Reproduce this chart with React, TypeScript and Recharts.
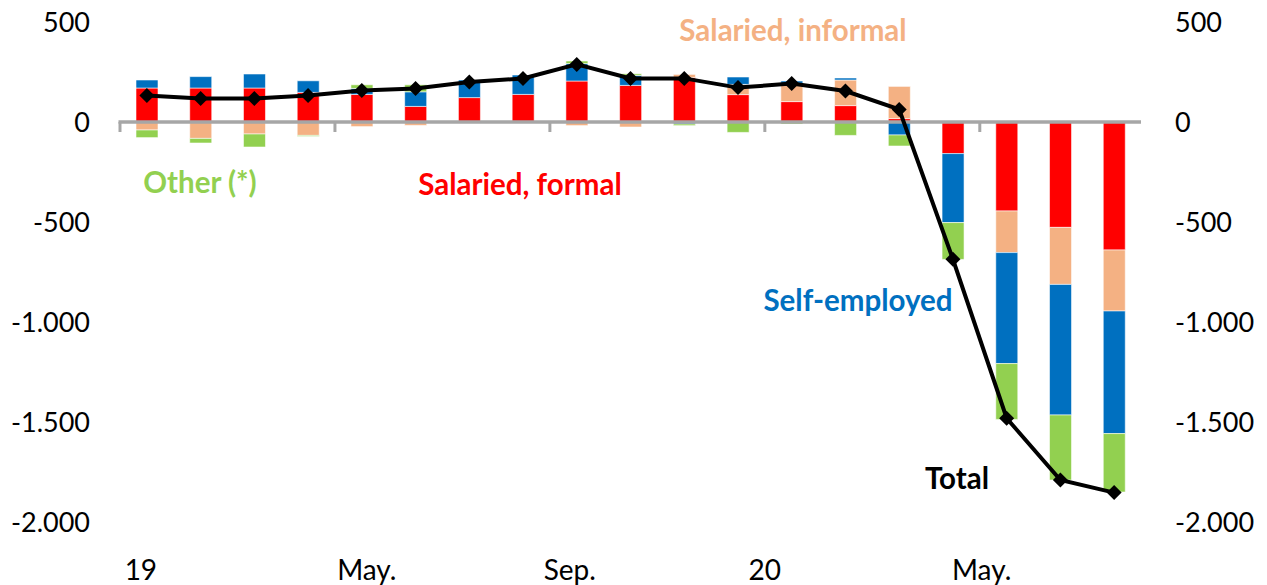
import React from "react";
import { Bar, ComposedChart, Line, ReferenceLine, XAxis, YAxis } from "recharts";

const months = [
  "Jan-19", "Feb-19", "Mar-19", "Apr-19", "May-19", "Jun-19", "Jul-19", "Aug-19", "Sep-19", "Oct-19",
  "Nov-19", "Dec-19", "Jan-20", "Feb-20", "Mar-20", "Apr-20", "May-20", "Jun-20", "Jul-20",
];
const tickLabels = ["19", "", "", "", "May.", "", "", "", "Sep.", "", "", "", "20", "", "", "", "May.", "", ""];
// Excel puts these a bit off the category centre
const tickShift = [-6, 0, 0, 0, 5, 0, 0, 0, -7, 0, 0, 0, -27, 0, 0, 0, -25, 0, 0];

const salariedFormal = [170, 170, 170, 148, 138, 78, 122, 138, 205, 183, 222, 137, 102, 82, 17, -158, -445, -527, -640];
const salariedInformal = [-40, -82, -60, -67, -23, -17, 0, 0, -18, -25, 16, 51, 91, 128, 161, 0, -208, -285, -305];
const selfEmployed = [40, 57, 70, 58, 30, 73, 88, 97, 87, 50, -10, 37, 12, 10, -65, -345, -555, -653, -613];
const other = [-38, -23, -65, -5, 18, 35, -5, -5, 13, 8, -8, -52, -10, -67, -55, -184, -279, -325, -292];
const total = [133, 118, 117, 133, 158, 168, 200, 218, 288, 218, 218, 172, 192, 155, 63, -686, -1481, -1790, -1853];

const yTicks = [-2000, -1500, -1000, -500, 0, 500];

const data = months.map((m, i) => ({
  m,
  formal: salariedFormal[i],
  informal: salariedInformal[i],
  self: selfEmployed[i],
  other: other[i],
  total: total[i],
}));

const FONT = "Lato, 'Open Sans', sans-serif";
const fmt = (v: number) => v.toLocaleString("de-DE");

const Diamond = (props: any) => {
  const { cx, cy } = props;
  if (cx == null || cy == null) return null;
  const r = 7.5;
  return <polygon points={`${cx},${cy - r} ${cx + r},${cy} ${cx},${cy + r} ${cx - r},${cy}`} fill="#000" />;
};

const XTick = (props: any) => {
  const { x, y, index } = props;
  const label = tickLabels[index];
  if (!label) return null;
  return (
    <text x={x + tickShift[index]} y={y + 56} textAnchor="middle" fontSize={28} fontFamily={FONT} fill="#000">
      {label}
    </text>
  );
};

const ZeroAxis = (props: any) => {
  const { x1, y1, x2 } = props;
  const step = ((x2 - x1) / months.length) * 4;
  const marks = [];
  for (let k = 0; x1 + k * step < x2 - 1; k++) {
    const x = x1 + k * step;
    marks.push(<line key={k} x1={x} y1={y1} x2={x} y2={y1 + 10} stroke="#A6A6A6" strokeWidth={3} />);
  }
  return (
    <g>
      <line x1={x1 - 1.5} y1={y1} x2={x2} y2={y1} stroke="#A6A6A6" strokeWidth={3.5} />
      {marks}
    </g>
  );
};

const notes = [
  { text: "Other (*)", color: "#92D050", left: 200, top: 182 },
  { text: "Salaried, formal", color: "#FF0000", left: 520, top: 184 },
  { text: "Salaried, informal", color: "#F4B183", left: 793, top: 30 },
  { text: "Self-employed", color: "#0070C0", left: 858, top: 300 },
  { text: "Total", color: "#000000", left: 957, top: 478 },
];

export default function App() {
  const barStroke = { stroke: "#ffffff", strokeWidth: 0.8, strokeOpacity: 0.7 };
  return (
    <div style={{ position: "absolute", left: 0, top: 0, width: 1267, height: 585, background: "#fff" }}>
      <ComposedChart
        width={1267}
        height={585}
        data={data}
        stackOffset="sign"
        barSize={22}
        margin={{ top: 22, right: 0, bottom: 0, left: 0 }}
      >
        <XAxis
          dataKey="m"
          interval={0}
          axisLine={false}
          tickLine={false}
          tickSize={0}
          height={63}
          tick={<XTick />}
        />
        <YAxis
          yAxisId="left"
          domain={[-2000, 500]}
          ticks={yTicks}
          width={120}
          axisLine={false}
          tickLine={false}
          tickSize={0}
          tickMargin={30}
          tickFormatter={fmt}
          tick={{ fill: "#000", fontSize: 27, fontFamily: FONT }}
        />
        <YAxis
          yAxisId="right"
          orientation="right"
          domain={[-2000, 500]}
          ticks={yTicks}
          width={126}
          axisLine={false}
          tickLine={false}
          tickSize={0}
          tickMargin={34}
          tickFormatter={fmt}
          tick={{ fill: "#000", fontSize: 27, fontFamily: FONT }}
        />
        <Bar yAxisId="left" dataKey="formal" stackId="a" fill="#FF0000" {...barStroke} isAnimationActive={false} />
        <Bar yAxisId="left" dataKey="informal" stackId="a" fill="#F4B183" {...barStroke} isAnimationActive={false} />
        <Bar yAxisId="left" dataKey="self" stackId="a" fill="#0070C0" {...barStroke} isAnimationActive={false} />
        <Bar yAxisId="left" dataKey="other" stackId="a" fill="#92D050" {...barStroke} isAnimationActive={false} />
        <ReferenceLine yAxisId="left" y={0} shape={ZeroAxis} />
        <Line
          yAxisId="right"
          dataKey="total"
          stroke="#000"
          strokeWidth={4}
          dot={<Diamond />}
          activeDot={false}
          isAnimationActive={false}
        />
      </ComposedChart>
      {notes.map((n) => (
        <div
          key={n.text}
          style={{
            position: "absolute",
            left: n.left,
            top: n.top,
            transform: "translate(-50%, -50%)",
            color: n.color,
            fontFamily: FONT,
            fontWeight: 700,
            fontSize: 29.5,
            lineHeight: 1,
            whiteSpace: "nowrap",
          }}
        >
          {n.text}
        </div>
      ))}
    </div>
  );
}
